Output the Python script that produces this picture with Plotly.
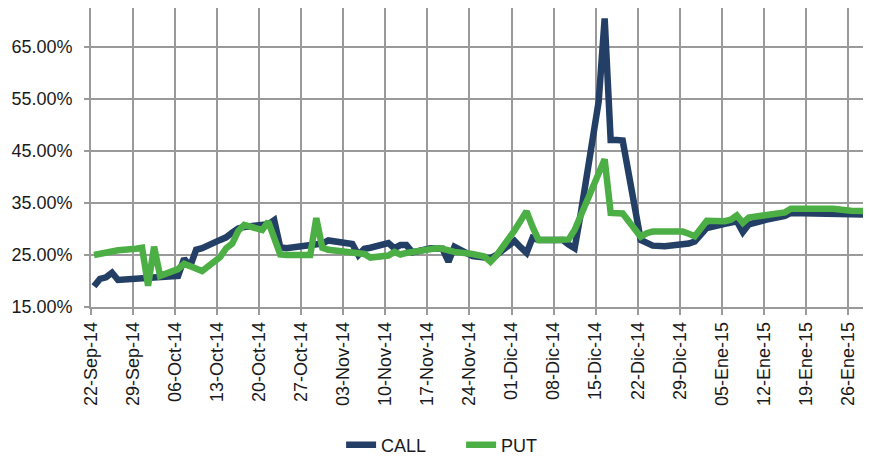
import pandas as pd
import plotly.graph_objects as go

dates = [
    "2014-09-22", "2014-09-23", "2014-09-24", "2014-09-25", "2014-09-26",
    "2014-09-29", "2014-09-30", "2014-10-01", "2014-10-02", "2014-10-03",
    "2014-10-06", "2014-10-07", "2014-10-08", "2014-10-09", "2014-10-10",
    "2014-10-13", "2014-10-14", "2014-10-15", "2014-10-16", "2014-10-17",
    "2014-10-20", "2014-10-21", "2014-10-22", "2014-10-23", "2014-10-24",
    "2014-10-27", "2014-10-28", "2014-10-29", "2014-10-30", "2014-10-31",
    "2014-11-03", "2014-11-04", "2014-11-05", "2014-11-06", "2014-11-07",
    "2014-11-10", "2014-11-11", "2014-11-12", "2014-11-13", "2014-11-14",
    "2014-11-17", "2014-11-18", "2014-11-19", "2014-11-20", "2014-11-21",
    "2014-11-24", "2014-11-25", "2014-11-26", "2014-11-27", "2014-11-28",
    "2014-12-01", "2014-12-02", "2014-12-03", "2014-12-04", "2014-12-05",
    "2014-12-08", "2014-12-09", "2014-12-10", "2014-12-11", "2014-12-12",
    "2014-12-15", "2014-12-16", "2014-12-17", "2014-12-18", "2014-12-19",
    "2014-12-22", "2014-12-23", "2014-12-24", "2014-12-26",
    "2014-12-29", "2014-12-30", "2014-12-31", "2015-01-02",
    "2015-01-05", "2015-01-06", "2015-01-07", "2015-01-08", "2015-01-09",
    "2015-01-12", "2015-01-13", "2015-01-14", "2015-01-15", "2015-01-16",
    "2015-01-19", "2015-01-20", "2015-01-21", "2015-01-22", "2015-01-23",
    "2015-01-26", "2015-01-27", "2015-01-28", "2015-01-29", "2015-01-30",
]

call = [
    19.0, 20.4, 20.7, 21.6, 20.2,
    20.5, 20.7, 20.8, 20.9, 21.0,
    21.0, 24.3, 22.8, 26.0, 26.3,
    27.9, 28.4, 29.3, 30.1, 30.4,
    30.6, 30.9, 31.7, 26.5, 26.3,
    26.8, 26.9, 27.0, 27.2, 27.8,
    27.3, 27.1, 25.0, 26.2, 26.4,
    27.3, 26.3, 26.9, 26.9, 25.5,
    26.3, 26.4, 26.2, 23.7, 26.6,
    24.8, 24.6, 24.5, 24.4, 25.0,
    27.7, 26.5, 25.4, 28.3, 27.9,
    27.9, 27.9, 27.0, 26.3, 32.8,
    54.5, 70.5, 47.1, 47.1, 47.0,
    27.9, 27.2, 26.8, 26.7,
    26.9, 27.2, 27.6, 30.2,
    31.0, 31.2, 31.5, 29.4, 30.9,
    31.8, 32.0, 32.2, 32.5, 33.1,
    33.1, 33.0, 33.0, 33.0, 32.9,
    32.9, 32.9, 32.8, 32.7, 32.6,
]

put = [
    25.0, 25.3, 25.4, 25.9, 25.9,
    26.2, 26.4, 19.1, 26.6, 21.0,
    22.3, 23.3, 22.8, 22.1, 21.9,
    24.6, 26.3, 27.2, 29.6, 30.8,
    29.8, 31.4, 28.2, 25.1, 25.0,
    25.0, 25.0, 32.1, 26.4, 26.0,
    25.7, 25.6, 25.6, 25.2, 24.5,
    24.9, 25.6, 25.1, 25.4, 25.6,
    26.0, 26.3, 26.2, 25.9, 25.6,
    25.2, 25.0, 24.7, 23.7, 24.9,
    29.7, 31.8, 33.4, 30.4, 27.9,
    27.9, 27.9, 28.0, 29.8, 32.6,
    40.5, 43.4, 33.1, 33.0, 33.0,
    28.5, 29.2, 29.5, 29.5,
    29.5, 29.1, 28.6, 31.6,
    31.5, 31.8, 32.6, 31.2, 32.2,
    32.7, 32.9, 33.0, 33.2, 33.9,
    34.0, 34.1, 34.1, 34.0, 33.9,
    33.5, 33.5, 33.5, 33.4, 33.4,
]

tick_dates = [
    "2014-09-22", "2014-09-29", "2014-10-06", "2014-10-13", "2014-10-20",
    "2014-10-27", "2014-11-03", "2014-11-10", "2014-11-17", "2014-11-24",
    "2014-12-01", "2014-12-08", "2014-12-15", "2014-12-22", "2014-12-29",
    "2015-01-05", "2015-01-12", "2015-01-19", "2015-01-26",
]
tick_labels = [
    "22-Sep-14", "29-Sep-14", "06-Oct-14", "13-Oct-14", "20-Oct-14",
    "27-Oct-14", "03-Nov-14", "10-Nov-14", "17-Nov-14", "24-Nov-14",
    "01-Dic-14", "08-Dic-14", "15-Dic-14", "22-Dic-14", "29-Dic-14",
    "05-Ene-15", "12-Ene-15", "19-Ene-15", "26-Ene-15",
]
y_ticks = [15, 25, 35, 45, 55, 65]

# points sit in the middle of each day's slot (as in a spreadsheet date axis)
x = pd.to_datetime(dates) + pd.Timedelta(hours=12)

fig = go.Figure()
fig.add_trace(go.Scatter(x=x, y=call, mode="lines", name="CALL",
                         line=dict(color="#243f66", width=6.5)))
fig.add_trace(go.Scatter(x=x, y=put, mode="lines", name="PUT",
                         line=dict(color="#4caf45", width=6.5)))

grid = "#9a9a9a"
fig.update_layout(
    width=871, height=457,
    margin=dict(l=83, r=4, t=0, b=158),
    paper_bgcolor="white", plot_bgcolor="white",
    font=dict(family="Liberation Sans, Arial, sans-serif", size=18, color="#1a1a1a"),
    showlegend=True,
    legend=dict(orientation="h", x=0.319, xanchor="left", y=-0.462, yanchor="middle",
                font=dict(size=18, color="#1a1a1a"),
                entrywidth=75, entrywidthmode="pixels",
                traceorder="normal"),
    xaxis=dict(
        type="date",
        range=["2014-09-22", "2015-01-30 12:00"],
        tickvals=pd.to_datetime(tick_dates), ticktext=tick_labels,
        tickangle=-90,
        showgrid=True, gridcolor=grid, gridwidth=1.5,
        showline=True, linecolor=grid, linewidth=1.5,
        ticks="outside", ticklen=6, tickcolor=grid, tickwidth=1.5,
        zeroline=False,
    ),
    yaxis=dict(
        range=[15, 72.5],
        tickvals=y_ticks, ticktext=[f"{v:.2f}%" for v in y_ticks],
        showgrid=True, gridcolor=grid, gridwidth=1.5,
        showline=True, linecolor=grid, linewidth=1.5,
        ticks="outside", ticklen=5, tickcolor=grid, tickwidth=1.5,
        ticklabelstandoff=8,
        zeroline=False,
    ),
)

fig.write_html("out.html")
